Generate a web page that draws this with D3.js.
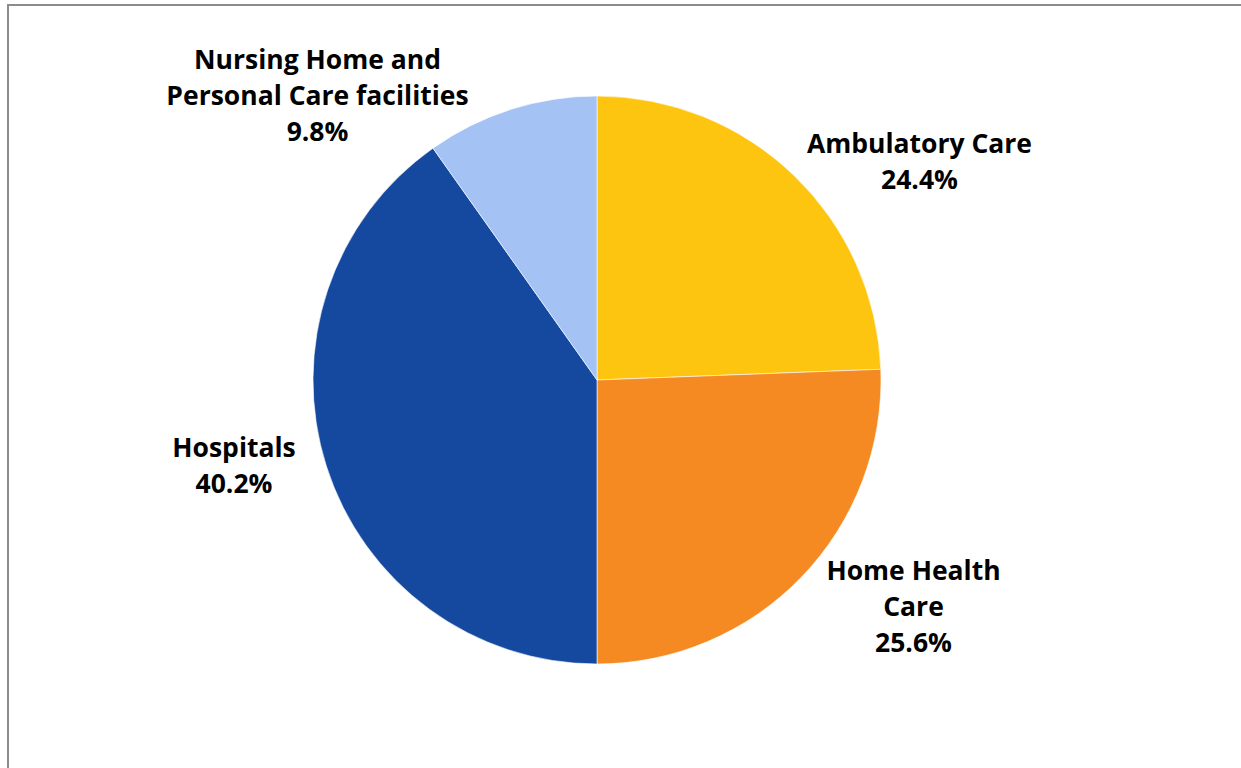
<!DOCTYPE html>
<html><head><meta charset="utf-8">
<script src="https://cdn.jsdelivr.net/npm/d3@7"></script>
<style>html,body{margin:0;padding:0;background:#fff;overflow:hidden}</style>
</head><body>
<svg id="c" width="1241" height="768"></svg>
<script>
const categories = ["Ambulatory Care", "Home Health Care", "Hospitals", "Nursing Home and Personal Care facilities"];
const values = [24.4, 25.6, 40.2, 9.8];
const colors = ["#FEC510", "#F58A22", "#15499F", "#A4C2F4"];
const labelLines = [["Ambulatory Care"], ["Home Health", "Care"], ["Hospitals"], ["Nursing Home and", "Personal Care facilities"]];

const svg = d3.select("#c");
svg.append("rect").attr("x", 8).attr("y", 5).attr("width", 1260).attr("height", 800)
  .attr("fill", "#fff").attr("stroke", "#8c8c8c").attr("stroke-width", 2);

const cx = 597, cy = 380, r = 284;
const data = categories.map((c, i) => ({name: c, value: values[i], color: colors[i], lines: labelLines[i]}));
const pie = d3.pie().value(d => d.value).sort(null);
const arc = d3.arc().innerRadius(0).outerRadius(r);
const arcs = pie(data);
const g = svg.append("g").attr("transform", `translate(${cx},${cy})`);
g.selectAll("path").data(arcs).join("path")
  .attr("d", arc).attr("fill", d => d.data.color)
  .attr("stroke", "#fff").attr("stroke-width", 0.6);

// label anchor positions (center of label block), first baseline
const labelPos = [[919.5, 152.5], [913.5, 579.5], [234, 456.5], [317.5, 69]];
const lh = 36;
arcs.forEach((a, i) => {
  const lines = a.data.lines.concat([a.data.value.toFixed(1) + "%"]);
  const t = svg.append("text").attr("text-anchor", "middle")
    .attr("font-family", "'Open Sans', sans-serif").attr("font-weight", 700)
    .attr("font-size", 26.5).attr("fill", "#000");
  lines.forEach((l, j) => {
    t.append("tspan").attr("x", labelPos[i][0]).attr("y", labelPos[i][1] + j * lh).text(l);
  });
});
</script>
</body></html>
